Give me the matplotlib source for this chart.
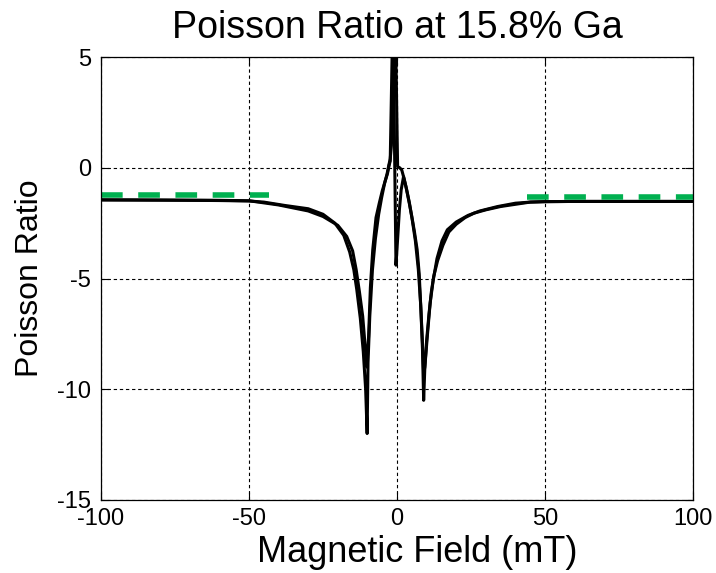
import matplotlib
matplotlib.use("Agg")
import matplotlib.pyplot as plt

plt.rcParams["font.family"] = ["Liberation Sans", "DejaVu Sans"]
plt.rcParams["axes.unicode_minus"] = False

# sweep up (field increasing)
field_up = [-100, -80, -60, -50, -40, -30, -25, -20, -17, -15, -13.8, -12.7, -11.6,
            -10.8, -10.2, -9.6, -9.0, -8.2, -7.1, -6.0, -5.0, -4.0, -3.2, -2.6, -2.3,
            -1.4, -0.35, 0.3, 0.8, 1.4, 2.2, 3.0, 4.0, 5.0, 5.9, 6.8, 7.5, 8.1, 8.6,
            9.0, 9.4, 10.0, 10.8, 11.6, 12.4, 13.7, 15.5, 17.5, 20, 23, 26, 30, 35,
            40, 45, 50, 60, 80, 100]
ratio_up = [-1.45, -1.46, -1.47, -1.49, -1.68, -1.95, -2.2, -2.6, -3.1, -3.75, -4.6,
            -5.6, -6.7, -8.0, -9.0, -7.6, -5.4, -3.7, -2.25, -1.6, -1.05, -0.6, -0.25,
            0.15, 0.3, 7.0, -4.4, -3.0, -1.9, -1.0, -0.4, -0.85, -1.5, -2.2, -2.9,
            -3.7, -4.8, -6.5, -8.2, -10.5, -9.0, -7.8, -6.6, -5.6, -4.9, -4.2, -3.5,
            -2.9, -2.55, -2.25, -2.05, -1.9, -1.75, -1.65, -1.55, -1.53, -1.52, -1.52,
            -1.52]

# sweep down (field decreasing)
field_down = [100, 80, 60, 50, 45, 40, 34, 28, 24, 20, 17, 15.2, 13.5, 12.2, 11.2,
              10.3, 9.4, 9.0, 8.6, 8.0, 7.2, 6.2, 5.2, 4.2, 3.2, 2.4, 1.6, 0.9, 0.2,
              -0.6, -1.9, -2.3, -2.8, -3.4, -4.2, -5.2, -6.2, -7.3, -8.3, -9.2, -9.8,
              -10.1, -10.6, -11.4, -12.4, -13.6, -14.6, -16, -18, -21, -25, -30, -38,
              -45, -50, -60, -80, -100]
ratio_down = [-1.52, -1.52, -1.52, -1.53, -1.55, -1.6, -1.75, -1.95, -2.15, -2.45,
              -2.8, -3.3, -4.1, -5.1, -6.1, -7.5, -9.0, -9.3, -7.9, -6.2, -4.6, -3.3,
              -2.4, -1.6, -0.95, -0.5, -0.1, 0.0, 0.05, 7.0, 1.0, 0.4, 0.1, -0.3, -0.7,
              -1.35, -2.1, -3.2, -4.6, -6.7, -8.8, -12.0, -10.0, -8.3, -6.8, -5.5,
              -4.6, -3.8, -3.05, -2.5, -2.1, -1.85, -1.7, -1.55, -1.5, -1.48, -1.46,
              -1.45]

# saturation guide lines
sat_left_x = [-100, -43.3]
sat_left_y = [-1.25, -1.25]
sat_right_x = [43.9, 100]
sat_right_y = [-1.32, -1.32]

fig = plt.figure(figsize=(7.16, 5.73), dpi=100)
ax = fig.add_axes([0.1411, 0.1274, 0.8268, 0.7731])

ax.plot(field_up, ratio_up, color="black", linewidth=2.2)
ax.plot(field_down, ratio_down, color="black", linewidth=2.2)

ax.plot(sat_left_x, sat_left_y, color="#00B050", linewidth=4,
        linestyle=(0, (3.9, 2.8)), dash_capstyle="butt")
ax.plot(sat_right_x, sat_right_y, color="#00B050", linewidth=4,
        linestyle=(0, (3.9, 2.8)), dash_capstyle="butt")

ax.set_xlim(-100, 100)
ax.set_ylim(-15, 5)
ax.set_xticks([-100, -50, 0, 50, 100])
ax.set_yticks([-15, -10, -5, 0, 5])

ax.grid(True, color="black", linestyle=(0, (3, 2.5)), linewidth=0.8)
ax.tick_params(direction="in", length=6, width=0.8, top=True, right=True,
               labelsize=17, colors="black")
ax.tick_params(axis="x", pad=6)
ax.tick_params(axis="y", pad=7)
for s in ax.spines.values():
    s.set_linewidth(0.9)

ax.set_title("Poisson Ratio at 15.8% Ga", fontsize=27, pad=14)
ax.set_xlabel("Magnetic Field (mT)", fontsize=26, labelpad=2)
ax.xaxis.set_label_coords(0.535, -0.078)
ax.xaxis.label.set_verticalalignment("top")
ax.set_ylabel("Poisson Ratio", fontsize=23, labelpad=9)

plt.savefig("out.png", dpi=100)
plt.close()
